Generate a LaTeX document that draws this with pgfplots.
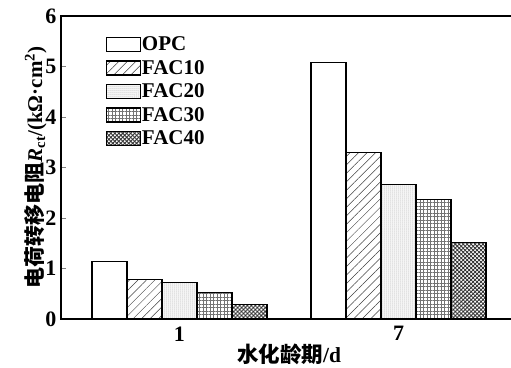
\documentclass[border=0pt]{standalone}
\usepackage{fontspec}
\setmainfont{Liberation Serif}
\newfontfamily\cjk{Noto Sans CJK SC}
\usepackage{pgfplots}
\pgfplotsset{compat=1.18}
\usetikzlibrary{patterns,patterns.meta}
\begin{document}
\begin{tikzpicture}
\begin{axis}[
  at={(0pt,0pt)}, anchor=south west,
  scale only axis, width=456pt, height=303pt,
  xmin=-0.541, xmax=1.541, ymin=0, ymax=6,
  ybar=0pt, bar width=35pt,
  xtick={0,1}, xticklabels={1,7}, xtick style={draw=none},
  ytick={0,1,2,3,4,5,6}, ytick pos=left, tick align=inside, major tick length=5pt,
  axis line style={line width=1.3pt},
  ytick style={line width=1pt},
  /pgf/number format/assume math mode=true,
  tick label style={font=\fontsize{22}{26}\selectfont\bfseries},
  xticklabel style={yshift=-4pt},
  yticklabel style={xshift=-1pt},
  xlabel={{\cjk\bfseries 水化龄期}\textbf{/d}},
  xlabel style={font=\fontsize{21.5}{25}\selectfont, yshift=4pt},
  ylabel={{\cjk\bfseries 电荷转移电阻}\textbf{\textit{R}\textsubscript{ct}/(kΩ·cm\textsuperscript{2})}},
  ylabel style={font=\fontsize{21}{25}\selectfont, yshift=-8pt},
  every axis plot/.append style={draw=black, line width=1.1pt},
  legend style={draw=none, fill=none, at={(0.098,0.935)}, anchor=north west,
    font=\fontsize{21}{25}\selectfont\bfseries, row sep=6pt, inner sep=0pt,
    nodes={inner sep=1pt}},
  legend cell align=left,
  legend image code/.code={\draw[#1] (0pt,-7pt) rectangle (34pt,7pt);},
]
\addplot[fill=white] coordinates {(0,1.13) (1,5.08)};
\addplot[pattern={Lines[angle=45,distance=6pt,line width=0.5pt]}, pattern color=black!75] coordinates {(0,0.78) (1,3.29)};
\addplot[pattern={Dots[distance=2pt,radius=0.5pt]}, pattern color=black!50] coordinates {(0,0.73) (1,2.66)};
\addplot[pattern={Hatch[angle=0,distance=3.5pt,line width=0.5pt]}, pattern color=black!55] coordinates {(0,0.52) (1,2.36)};
\addplot[pattern={Hatch[angle=45,distance=2.8pt,line width=0.9pt]}, pattern color=black!80] coordinates {(0,0.28) (1,1.52)};
\legend{OPC,FAC10,FAC20,FAC30,FAC40}
\end{axis}
\pgfresetboundingbox
\path[use as bounding box] (-61pt,-48pt) rectangle (450pt,319pt);
\end{tikzpicture}
\end{document}
